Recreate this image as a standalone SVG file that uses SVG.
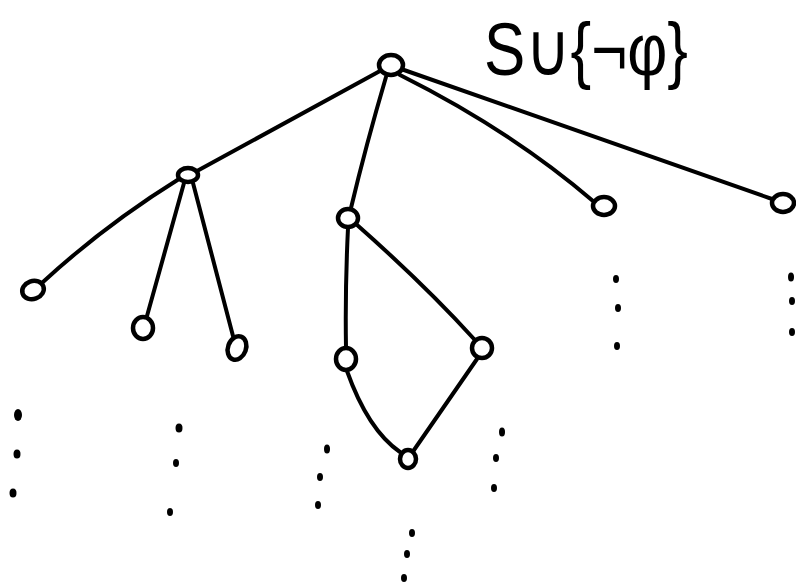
<svg xmlns="http://www.w3.org/2000/svg" width="796" height="584" viewBox="0 0 796 584">
  <style>
    .edge { fill: none; stroke: #000; stroke-width: 4; stroke-linecap: round; stroke-linejoin: round; }
    .node { fill: #fff; stroke: #000; stroke-width: 4.5; }
    .dot { fill: #000; }
    .label { font-family: "Liberation Sans", "DejaVu Sans", sans-serif; font-size: 74px; fill: #000; }
  </style>
  <rect width="796" height="584" fill="#fff"/>

  <!-- connectors -->
  <g id="edges">
    <path class="edge" d="M380 71 L197 171"/>
    <path class="edge" d="M386 77 Q366 145 351 208"/>
    <path class="edge" d="M400 75 Q510 130 593 201"/>
    <path class="edge" d="M404 70 Q590 135 772 199"/>
    <path class="edge" d="M179 179 Q105 225 43 282"/>
    <path class="edge" d="M184 183 L147 316"/>
    <path class="edge" d="M193 183 L233 336"/>
    <path class="edge" d="M348 228 Q345 290 346 347"/>
    <path class="edge" d="M356 224 Q425 285 474 339"/>
    <path class="edge" d="M347 371 Q368 430 400 452"/>
    <path class="edge" d="M477 359 Q445 405 414 450"/>
  </g>

  <!-- nodes -->
  <g id="root"><ellipse class="node" cx="391" cy="65" rx="12" ry="10"/></g>
  <g id="n-a"><ellipse class="node" cx="188" cy="175" rx="10" ry="7"/></g>
  <g id="n-b"><ellipse class="node" cx="348" cy="218" rx="10" ry="9"/></g>
  <g id="n-c"><ellipse class="node" cx="604" cy="206" rx="11" ry="9"/></g>
  <g id="n-d"><ellipse class="node" cx="783" cy="203" rx="11" ry="9"/></g>
  <g id="n-a1"><ellipse class="node" cx="33" cy="290" rx="11" ry="9" transform="rotate(-20 33 290)"/></g>
  <g id="n-a2"><ellipse class="node" cx="143" cy="328" rx="10" ry="11"/></g>
  <g id="n-a3"><ellipse class="node" cx="237" cy="348" rx="9" ry="12" transform="rotate(20 237 348)"/></g>
  <g id="n-b1"><ellipse class="node" cx="346" cy="359" rx="10" ry="11"/></g>
  <g id="n-b2"><ellipse class="node" cx="482" cy="348" rx="10" ry="10"/></g>
  <g id="n-bottom"><ellipse class="node" cx="408" cy="459" rx="8" ry="9"/></g>

  <!-- continuation dots -->
  <g id="dots">
    <ellipse class="dot" cx="18" cy="415" rx="4" ry="6"/>
    <ellipse class="dot" cx="17" cy="454" rx="3.5" ry="4.5"/>
    <ellipse class="dot" cx="13" cy="493" rx="3.5" ry="4.5"/>
    <ellipse class="dot" cx="179" cy="428" rx="3.5" ry="4.5"/>
    <ellipse class="dot" cx="176" cy="463" rx="3" ry="4"/>
    <ellipse class="dot" cx="170" cy="512" rx="3" ry="4"/>
    <ellipse class="dot" cx="327" cy="449" rx="3" ry="4.5"/>
    <ellipse class="dot" cx="320" cy="477" rx="3" ry="4"/>
    <ellipse class="dot" cx="318" cy="505" rx="3" ry="4"/>
    <ellipse class="dot" cx="412" cy="533" rx="3" ry="4"/>
    <ellipse class="dot" cx="407" cy="554" rx="3" ry="4"/>
    <ellipse class="dot" cx="404" cy="578" rx="3" ry="4"/>
    <ellipse class="dot" cx="502" cy="432" rx="3" ry="4.5"/>
    <ellipse class="dot" cx="496" cy="458" rx="3" ry="4"/>
    <ellipse class="dot" cx="494" cy="488" rx="3" ry="4"/>
    <ellipse class="dot" cx="616" cy="279" rx="3" ry="4"/>
    <ellipse class="dot" cx="618" cy="308" rx="3" ry="4"/>
    <ellipse class="dot" cx="617" cy="346" rx="3" ry="4"/>
    <ellipse class="dot" cx="791" cy="277" rx="3" ry="4.5"/>
    <ellipse class="dot" cx="792" cy="301" rx="3" ry="4"/>
    <ellipse class="dot" cx="792" cy="332" rx="3" ry="4"/>
  </g>

  <text class="label" x="484" y="75" textLength="204" lengthAdjust="spacingAndGlyphs">S∪{¬φ}</text>
</svg>
